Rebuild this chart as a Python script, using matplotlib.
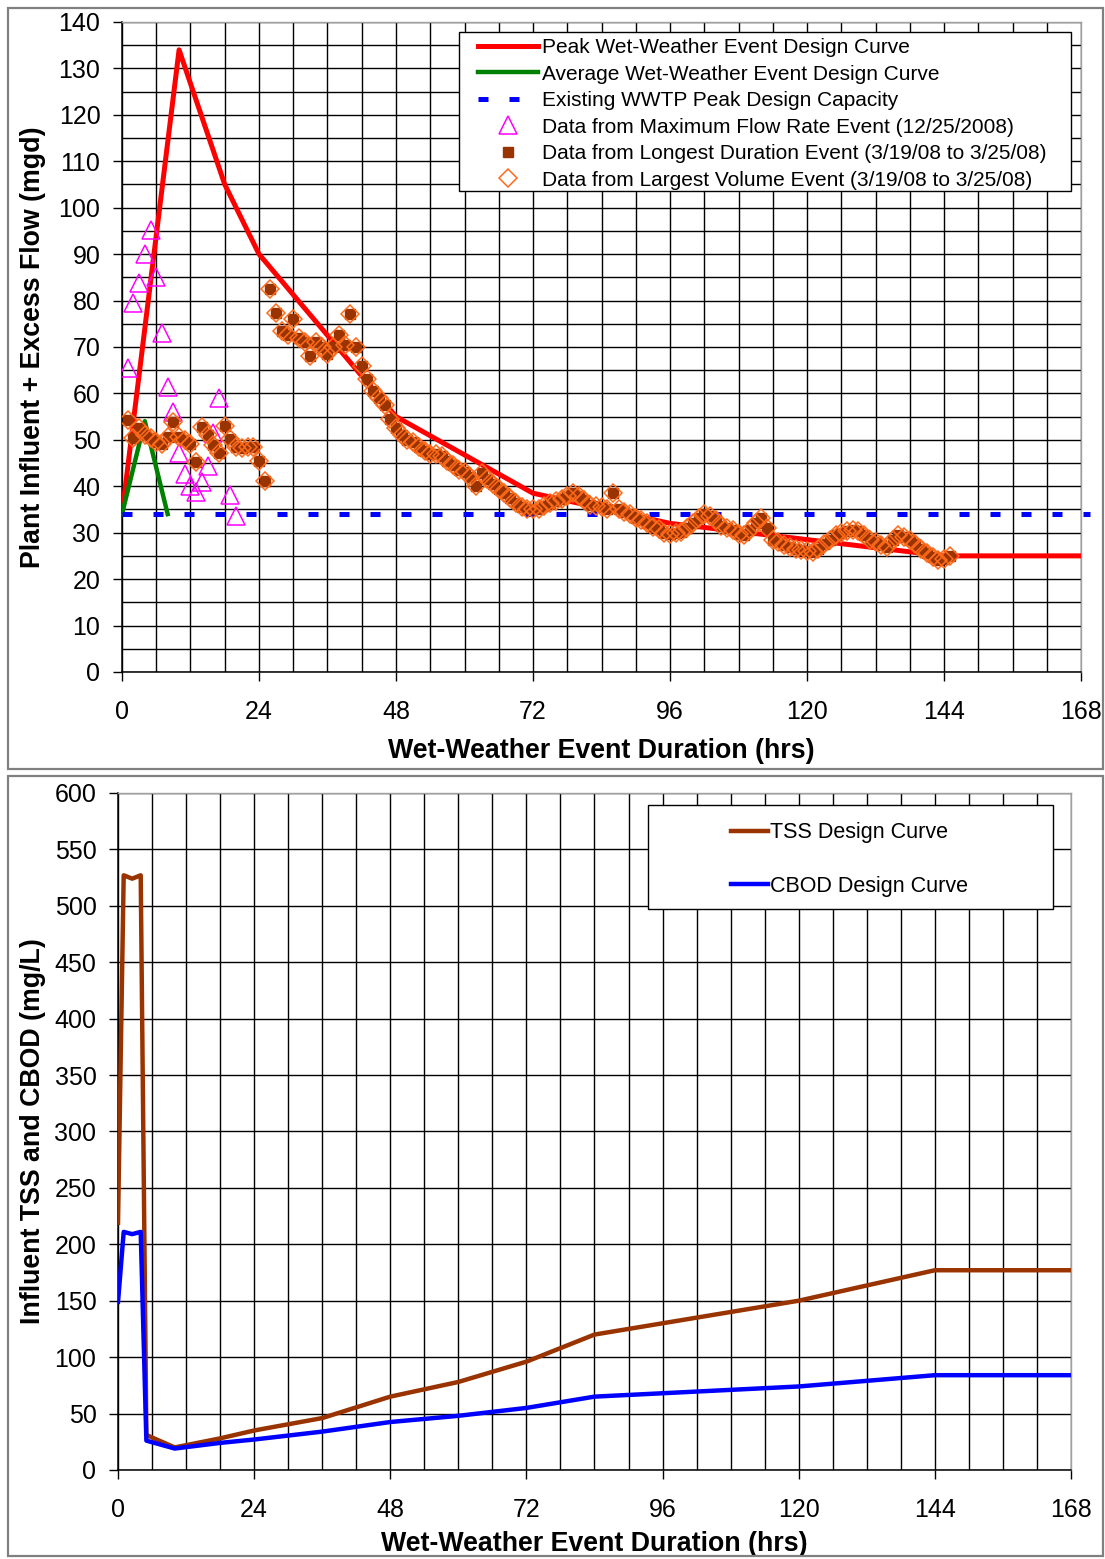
import matplotlib
matplotlib.use("Agg")
import matplotlib.pyplot as plt
from matplotlib.patches import Rectangle
from matplotlib.ticker import MultipleLocator

plt.rcParams['font.family'] = ['Liberation Sans', 'DejaVu Sans']

# -----------------------------
# Top chart data (flow, mgd)
# -----------------------------
peak_hr = [0, 10, 18, 24, 48, 72, 96, 120, 144, 168]
peak_flow = [34, 134, 105, 90, 55, 38.5, 32, 28.5, 25, 25]

avg_hr = [0, 4, 8]
avg_flow = [34, 54, 34]

capacity_hr = [0, 169.5]
capacity_flow = [34, 34]

max_event_hr = [1, 2, 3, 4, 5, 6, 7, 8, 9, 10, 11, 12, 13, 14, 15, 16, 17, 19, 20]
max_event_flow = [65.5, 79.5, 83.7, 90, 95.3, 85, 73.1, 61.4, 55.9, 47.2,
                  42.6, 40.1, 38.7, 41, 44.4, 51.4, 59.1, 38.1, 33.6]

# hourly readings, 3/19/08 to 3/25/08 (same event for duration and volume)
event_hr = list(range(1, 146))
event_flow = [
    54.3, 50.3, 52.5, 51.0, 50.3, 49.5, 49.2, 50.7, 53.9, 50.7,
    50.0, 49.2, 45.2, 52.7, 51.0, 48.9, 47.1, 53.0, 50.1, 48.5,
    48.2, 48.4, 48.4, 45.4, 41.1,
    82.5, 77.3, 73.5, 72.5, 76.0, 72.0, 71.0, 68.0, 71.0, 70.0,
    68.5, 70.0, 72.5, 70.5, 77.0, 70.0, 66.0, 63.0, 60.5, 59.0,
    57.5, 54.5, 52.5, 51.0, 50.0, 49.5, 48.5, 47.5, 47.0, 47.0,
    46.5, 45.5, 44.5, 43.5, 43.0, 42.0, 40.0, 42.8, 41.5, 40.5,
    39.5, 38.5, 37.5, 36.3, 35.5, 35.0, 35.0, 35.2, 35.8, 36.3,
    36.8, 37.2, 38.0, 38.5, 38.0, 37.0, 36.0, 35.8, 35.5, 35.2,
    38.5, 35.0, 34.5, 34.0, 33.2, 32.7, 32.0, 31.3, 30.7, 30.0,
    29.8, 29.9, 30.2, 31.0, 32.0, 33.2, 34.0, 33.5, 32.7, 31.5,
    31.0, 30.5, 29.8, 29.5, 30.5, 32.0, 33.2, 31.0, 28.5, 28.0,
    27.3, 27.0, 26.5, 26.3, 26.0, 25.8, 26.5, 27.5, 28.5, 29.5,
    30.0, 30.3, 30.6, 30.3, 29.5, 28.5, 28.0, 27.3, 27.0, 28.5,
    29.5, 29.0, 28.4, 27.5, 26.5, 25.6, 24.8, 24.1, 24.3, 25.0,
]

# -----------------------------
# Bottom chart data (mg/L)
# -----------------------------
conc_hr = [0, 1, 2.5, 4, 5, 10, 18, 24, 36, 48, 60, 72, 84, 96, 120, 144, 168]
tss = [219, 527, 524, 527, 31, 20, 28, 35, 46, 65, 78, 96, 120, 130, 150, 177, 177]
cbod = [149, 211, 209, 211, 26, 19, 24, 27, 34, 42.5, 48, 55, 65, 68, 74, 84, 84]

x_ticks = [0, 24, 48, 72, 96, 120, 144, 168]

TICK_FS = 18
LABEL_FS = 19.3
LEG_FS = 15


def style_axes(ax, ymax, ymajor, yminor, xlabelpad):
    ax.set_xlim(0, 168)
    ax.set_ylim(0, ymax)
    ax.set_xticks(x_ticks)
    ax.xaxis.set_minor_locator(MultipleLocator(6))
    ax.yaxis.set_major_locator(MultipleLocator(ymajor))
    if yminor:
        ax.yaxis.set_minor_locator(MultipleLocator(yminor))
    ax.grid(True, which='both', color='black', linewidth=1.0)
    ax.set_axisbelow(True)
    ax.tick_params(which='major', direction='out', length=6.5, width=1.0,
                   labelsize=TICK_FS)
    ax.tick_params(which='minor', length=0)
    ax.tick_params(axis='x', pad=14)
    ax.tick_params(axis='y', pad=9)
    for side in ['left', 'bottom']:
        ax.spines[side].set_color('black')
        ax.spines[side].set_linewidth(1.1)
    for side in ['top', 'right']:
        ax.spines[side].set_color('#a0a0a0')
        ax.spines[side].set_linewidth(1.0)
    ax.set_xlabel("Wet-Weather Event Duration (hrs)", fontsize=LABEL_FS,
                  fontweight='bold', labelpad=xlabelpad)


fig = plt.figure(figsize=(11.05, 15.59), dpi=100)

# panel frames
fig.patches.append(Rectangle((8 / 1105, 1 - 769 / 1559), 1095 / 1105, 761 / 1559,
                             transform=fig.transFigure, fill=False,
                             edgecolor='#808080', linewidth=1.6))
fig.patches.append(Rectangle((8 / 1105, 1 - 1556 / 1559), 1095 / 1105, 780 / 1559,
                             transform=fig.transFigure, fill=False,
                             edgecolor='#808080', linewidth=1.6))

# -----------------------------
# Top chart
# -----------------------------
ax1 = fig.add_axes([0.1104, 0.5690, 0.8679, 0.4169])
style_axes(ax1, 140, 10, 5, 10)

ax1.plot(peak_hr, peak_flow, color='#ff0000', linewidth=3.6,
         label='Peak Wet-Weather Event Design Curve', zorder=3)
ax1.plot(avg_hr, avg_flow, color='#008000', linewidth=3.2,
         label='Average Wet-Weather Event Design Curve', zorder=3)
ax1.plot(capacity_hr, capacity_flow, color='#0000ff', linewidth=3.6,
         linestyle=(0, (2, 4.2)), label='Existing WWTP Peak Design Capacity',
         zorder=3, clip_on=False)
ax1.plot(max_event_hr, max_event_flow, linestyle='none', marker='^',
         markersize=12.5, markerfacecolor='none', markeredgecolor='#ff00ff',
         markeredgewidth=1.1, label='Data from Maximum Flow Rate Event (12/25/2008)',
         zorder=4)
ax1.plot(event_hr, event_flow, linestyle='none', marker='s', markersize=6.5,
         color='#993300', label='Data from Longest Duration Event (3/19/08 to 3/25/08)',
         zorder=5)
ax1.plot(event_hr, event_flow, linestyle='none', marker='D', markersize=9.5,
         markerfacecolor='none', markeredgecolor='#ff6a1a', markeredgewidth=1.1,
         label='Data from Largest Volume Event (3/19/08 to 3/25/08)', zorder=6)

ax1.set_ylabel("Plant Influent + Excess Flow (mgd)", fontsize=LABEL_FS,
               fontweight='bold', labelpad=9)

ax1.add_patch(Rectangle((0.3514, 0.74), 0.6382, 0.2446, transform=ax1.transAxes,
                        facecolor='white', edgecolor='black', linewidth=1.0,
                        zorder=8))
leg1 = ax1.legend(loc='upper left', bbox_to_anchor=(0.3712, 0.975),
                  frameon=False, fontsize=LEG_FS, borderpad=0, borderaxespad=0,
                  handlelength=2.9, handletextpad=0.15, labelspacing=0.36,
                  numpoints=1)
leg1.set_zorder(9)

# -----------------------------
# Bottom chart
# -----------------------------
ax2 = fig.add_axes([0.1068, 0.0571, 0.8624, 0.4343])
style_axes(ax2, 600, 50, None, 6)

ax2.plot(conc_hr, tss, color='#993300', linewidth=3.2, label='TSS Design Curve',
         zorder=3)
ax2.plot(conc_hr, cbod, color='#0000ff', linewidth=3.2, label='CBOD Design Curve',
         zorder=3)

ax2.set_ylabel("Influent TSS and CBOD (mg/L)", fontsize=LABEL_FS,
               fontweight='bold', labelpad=6)

ax2.add_patch(Rectangle((0.5561, 0.8287), 0.4250, 0.1536, transform=ax2.transAxes,
                        facecolor='white', edgecolor='black', linewidth=1.0,
                        zorder=8))
leg2 = ax2.legend(loc='upper left', bbox_to_anchor=(0.6432, 0.9566),
                  frameon=False, fontsize=15.5, borderpad=0, borderaxespad=0,
                  handlelength=1.7, handletextpad=0.1, labelspacing=1.5)
leg2.set_zorder(9)

fig.savefig("out.png", dpi=100)
